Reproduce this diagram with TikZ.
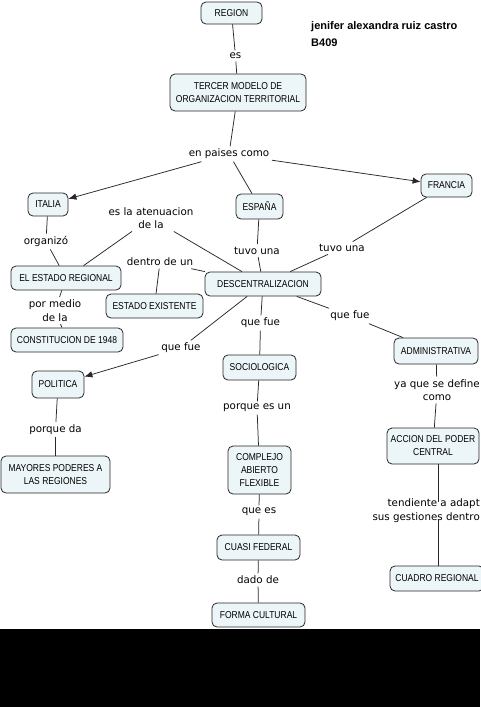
\documentclass[tikz,border=0pt]{standalone}
\usepackage{fontspec}
\setmainfont{Liberation Sans}
\newfontfamily\boxfont[FakeStretch=0.85]{Liberation Sans}
\newfontfamily\lblfont{DejaVu Sans}
\newfontfamily\titlefont{Liberation Sans}
\usetikzlibrary{arrows.meta}
\definecolor{boxfill}{RGB}{236,245,248}
\definecolor{linec}{RGB}{40,40,40}
\tikzset{
  concept/.style={draw=linec, fill=boxfill, rounded corners=5pt, line width=0.8pt,
    align=center, inner sep=0pt, font=\boxfont\fontsize{10}{13}\selectfont},
  lbl/.style={font=\lblfont\fontsize{10.3}{13.5}\selectfont, align=center, inner sep=2.5pt},
  conn/.style={draw=linec, line width=0.75pt},
  arr/.style={conn, -{Latex[length=8pt,width=6.5pt]}}
}
\begin{document}
\begin{tikzpicture}[x=1pt,y=-1pt]
\useasboundingbox (0,0) rectangle (480,707);
\fill[white] (0,0) rectangle (480,707);
\fill[black] (0,629) rectangle (480,707);

\node[anchor=west, inner sep=0pt, align=left, font=\titlefont\bfseries\fontsize{11}{17}\selectfont] (autor) at (311,34.5) {jenifer alexandra ruiz castro\\B409};

\node[concept, minimum width=61, minimum height=22] (region) at (231.5,13) {REGION};
\node[lbl] (es) at (235.5,56) {es};
\node[concept, minimum width=136, minimum height=37] (tercer) at (238,92.5) {TERCER MODELO DE\\ORGANIZACION TERRITORIAL};
\node[lbl] (paises) at (229,154) {en paises como};
\node[concept, minimum width=40, minimum height=23] (italia) at (48,204.5) {ITALIA};
\node[concept, minimum width=47, minimum height=25] (espana) at (259.5,206.5) {ESPAÑA};
\node[concept, minimum width=51, minimum height=23] (francia) at (446.5,185.5) {FRANCIA};
\node[lbl] (organizo) at (46,241.5) {organizó};
\node[concept, minimum width=110, minimum height=24] (estreg) at (66,278) {EL ESTADO REGIONAL};
\node[lbl] (atenua) at (151,218) {es la atenuacion\\de la};
\node[lbl] (dentro) at (160,262) {dentro de un};
\node[concept, minimum width=97, minimum height=24] (estex) at (154.5,306) {ESTADO EXISTENTE};
\node[concept, minimum width=116, minimum height=24] (desc) at (263,284) {DESCENTRALIZACION};
\node[lbl] (tuvo1) at (257,250.5) {tuvo una};
\node[lbl] (tuvo2) at (342,248) {tuvo una};
\node[lbl] (pormedio) at (55,310.5) {por medio\\de la};
\node[concept, minimum width=112, minimum height=24] (const) at (67,340) {CONSTITUCION DE 1948};
\node[lbl] (qf1) at (181,348) {que fue};
\node[concept, minimum width=52, minimum height=27] (politica) at (58,384.5) {POLITICA};
\node[lbl] (porqueda) at (55.5,429.5) {porque da};
\node[concept, minimum width=109, minimum height=37] (mayores) at (55.5,474.5) {MAYORES PODERES A\\LAS REGIONES};
\node[lbl] (qf2) at (260.5,323) {que fue};
\node[concept, minimum width=73, minimum height=25] (socio) at (259.5,367.5) {SOCIOLOGICA};
\node[lbl] (porquees) at (257,408) {porque es un};
\node[concept, minimum width=63, minimum height=48] (complejo) at (259.5,470) {COMPLEJO\\ABIERTO\\FLEXIBLE};
\node[lbl] (quees) at (259,512) {que es};
\node[concept, minimum width=83, minimum height=25] (cuasi) at (258.5,547.5) {CUASI FEDERAL};
\node[lbl] (dado) at (258,580) {dado de};
\node[concept, minimum width=93, minimum height=24] (forma) at (258.5,615) {FORMA CULTURAL};
\node[lbl] (qf3) at (350,316) {que fue};
\node[concept, minimum width=84, minimum height=26] (admin) at (436,351) {ADMINISTRATIVA};
\node[lbl] (yaque) at (437,390) {ya que se define\\como};
\node[concept, minimum width=92, minimum height=36] (accion) at (433,446) {ACCION DEL PODER\\CENTRAL};
\node[lbl, align=right, anchor=east, inner sep=0pt] (tend) at (480,510.5) {tendiente a adapt\\sus gestiones dentro};
\coordinate (tendc) at (438,510);
\node[concept, minimum width=94, minimum height=25] (cuadro) at (437,578.5) {CUADRO REGIONAL};

\draw[conn] (region) -- (es);
\draw[conn] (es) -- (tercer);
\draw[conn] (tercer) -- (paises);
\draw[arr] (paises) -- (italia);
\draw[arr] (paises) -- (francia);
\draw[conn] (paises) -- (espana);
\draw[conn] (italia) -- (organizo);
\draw[conn] (organizo) -- (estreg);
\draw[conn] (estreg) -- (atenua);
\draw[conn] (atenua) -- (desc);
\draw[conn] (desc) -- (dentro);
\draw[conn] (dentro) -- (estex);
\draw[conn] (espana) -- (tuvo1);
\draw[conn] (tuvo1) -- (desc);
\draw[conn] (francia) -- (tuvo2);
\draw[conn] (tuvo2) -- (desc);
\draw[conn] (estreg) -- (pormedio);
\draw[conn] (pormedio) -- (const);
\draw[conn] (desc) -- (qf1);
\draw[arr] (qf1) -- (politica);
\draw[conn] (politica) -- (porqueda);
\draw[conn] (porqueda) -- (mayores);
\draw[conn] (desc) -- (qf2);
\draw[conn] (qf2) -- (socio);
\draw[conn] (socio) -- (porquees);
\draw[conn] (porquees) -- (complejo);
\draw[conn] (complejo) -- (quees);
\draw[conn] (quees) -- (cuasi);
\draw[conn] (cuasi) -- (dado);
\draw[conn] (dado) -- (forma);
\draw[conn] (desc) -- (qf3);
\draw[conn] (qf3) -- (admin);
\draw[conn] (admin) -- (yaque);
\draw[conn] (yaque) -- (accion);
\draw[conn] (accion.south -| tendc) -- ([yshift=-3pt]tend.north -| tendc);
\draw[conn] ([yshift=3pt]tend.south -| tendc) -- (cuadro.north -| tendc);
\end{tikzpicture}
\end{document}
